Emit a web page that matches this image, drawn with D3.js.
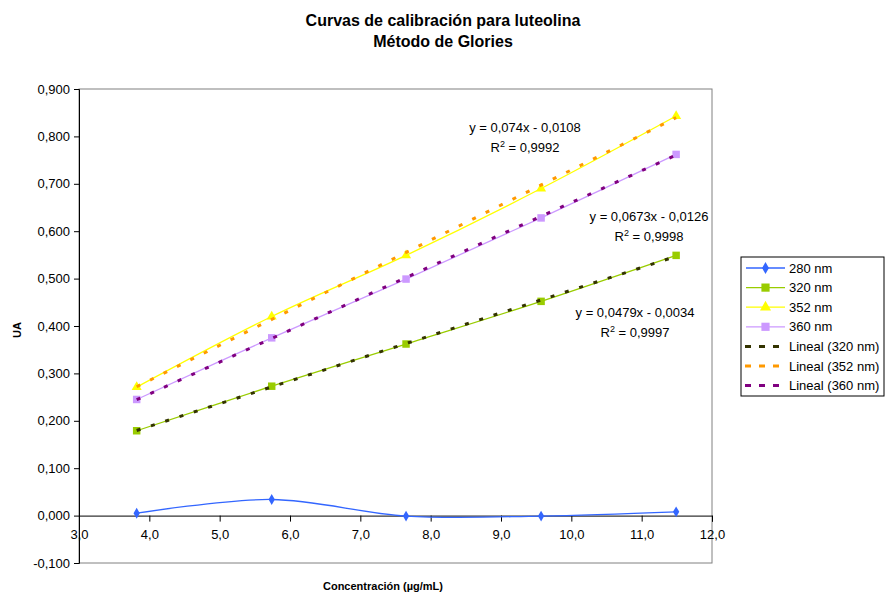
<!DOCTYPE html>
<html>
<head>
<meta charset="utf-8">
<script src="https://cdn.jsdelivr.net/npm/d3@7"></script>
<style>
  body { margin: 0; background: #fff; }
  text { font-family: Arial, "Liberation Sans", sans-serif; }
</style>
</head>
<body>
<div id="chart"></div>
<script>
const width = 886;
const height = 595;

// concentrations (ug/mL)
const conc = [3.82, 5.74, 7.65, 9.57, 11.49];

const series = [
  { name: "280 nm", color: "#3366FF", symbol: "diamond", values: [0.005, 0.034, -0.001, -0.001, 0.008] },
  { name: "320 nm", color: "#99CC00", symbol: "square", values: [0.179, 0.273, 0.362, 0.452, 0.549] },
  { name: "352 nm", color: "#FFFF00", symbol: "triangle", values: [0.271, 0.420, 0.549, 0.690, 0.843] },
  { name: "360 nm", color: "#CC99FF", symbol: "square", values: [0.245, 0.375, 0.499, 0.628, 0.762] }
];

// linear trendlines (slope, intercept) as printed on the chart
const trends = [
  { name: "Lineal (320 nm)", color: "#333300", slope: 0.0479, intercept: -0.0034, r2: "0,9997", lx: 635, ly: 312 },
  { name: "Lineal (352 nm)", color: "#FF9900", slope: 0.074, intercept: -0.0108, r2: "0,9992", lx: 525, ly: 127 },
  { name: "Lineal (360 nm)", color: "#800080", slope: 0.0673, intercept: -0.0126, r2: "0,9998", lx: 649, ly: 216 }
];

const xTicks = [3, 4, 5, 6, 7, 8, 9, 10, 11, 12];
const yTicks = [-0.1, 0, 0.1, 0.2, 0.3, 0.4, 0.5, 0.6, 0.7, 0.8, 0.9];

const locale = d3.formatLocale({ decimal: ",", thousands: ".", grouping: [3], currency: ["", ""], minus: "-" });
const fy = locale.format(".3f");
const fx = locale.format(".1f");
const fnum = v => locale.format(",")(v);

const plot = { left: 79, right: 712, top: 89, bottom: 563 };
const x = d3.scaleLinear().domain([3, 12]).range([plot.left, plot.right]);
const y = d3.scaleLinear().domain([-0.1, 0.9]).range([plot.bottom, plot.top]);

const svg = d3.select("#chart").append("svg")
  .attr("width", width)
  .attr("height", height);

// title
svg.append("text").attr("x", 443).attr("y", 26).attr("text-anchor", "middle")
  .style("font-size", "16px").style("font-weight", "bold")
  .text("Curvas de calibración para luteolina");
svg.append("text").attr("x", 443).attr("y", 47).attr("text-anchor", "middle")
  .style("font-size", "16px").style("font-weight", "bold")
  .text("Método de Glories");

// plot frame
svg.append("rect")
  .attr("x", plot.left).attr("y", plot.top)
  .attr("width", plot.right - plot.left).attr("height", plot.bottom - plot.top)
  .attr("fill", "#fff").attr("stroke", "#808080").attr("stroke-width", 1);

// y axis
const yAxis = svg.append("g")
  .attr("transform", `translate(${plot.left},0)`)
  .call(d3.axisLeft(y).tickValues(yTicks).tickFormat(fy).tickSize(5).tickPadding(4));
yAxis.select(".domain").attr("stroke", "#000");
yAxis.selectAll("text").style("font-size", "13px").style("font-family", "Arial, 'Liberation Sans', sans-serif");

// x axis at y = 0
const xAxis = svg.append("g")
  .attr("transform", `translate(0,${y(0)})`)
  .call(d3.axisBottom(x).tickValues(xTicks).tickFormat(fx).tickSize(6).tickPadding(8).tickSizeOuter(6));
xAxis.select(".domain").attr("stroke", "#000");
xAxis.selectAll("text").style("font-size", "13px").style("font-family", "Arial, 'Liberation Sans', sans-serif");

// axis titles
svg.append("text").attr("x", 383).attr("y", 590).attr("text-anchor", "middle")
  .style("font-size", "11px").style("font-weight", "bold")
  .text("Concentración (µg/mL)");
svg.append("text")
  .attr("transform", `translate(21,${(plot.top + plot.bottom) / 2 + 4}) rotate(-90)`)
  .attr("text-anchor", "middle")
  .style("font-size", "11px").style("font-weight", "bold")
  .text("UA");

const symbolType = { diamond: d3.symbolDiamond, square: d3.symbolSquare, triangle: d3.symbolTriangle };
const symbolSize = { diamond: 34, square: 56, triangle: 44 };

// series lines (smoothed like the original)
const line = d3.line()
  .x(d => x(d[0]))
  .y(d => y(d[1]))
  .curve(d3.curveCatmullRom.alpha(0));

series.forEach(s => {
  const pts = conc.map((c, i) => [c, s.values[i]]);
  svg.append("path")
    .datum(pts)
    .attr("fill", "none")
    .attr("stroke", s.color)
    .attr("stroke-width", 1.3)
    .attr("d", line);
  svg.append("g").selectAll("path")
    .data(pts)
    .join("path")
    .attr("transform", d => `translate(${x(d[0])},${y(d[1])})`)
    .attr("d", d3.symbol(symbolType[s.symbol], symbolSize[s.symbol]))
    .attr("fill", s.color);
});

// trendlines
trends.forEach(t => {
  const x0 = conc[0], x1 = conc[conc.length - 1];
  svg.append("line")
    .attr("x1", x(x0)).attr("y1", y(t.slope * x0 + t.intercept))
    .attr("x2", x(x1)).attr("y2", y(t.slope * x1 + t.intercept))
    .attr("stroke", t.color)
    .attr("stroke-width", 3)
    .attr("stroke-dasharray", "4,11");

  const sign = t.intercept < 0 ? " - " : " + ";
  svg.append("text")
    .attr("x", t.lx).attr("y", t.ly + 5)
    .attr("text-anchor", "middle")
    .style("font-size", "13px")
    .text(`y = ${fnum(t.slope)}x${sign}${fnum(Math.abs(t.intercept))}`);

  const r = svg.append("text")
    .attr("x", t.lx).attr("y", t.ly + 25)
    .attr("text-anchor", "middle")
    .style("font-size", "13px");
  r.append("tspan").text("R");
  r.append("tspan").attr("dy", -5).style("font-size", "9px").text("2");
  r.append("tspan").attr("dy", 5).text(` = ${t.r2}`);
});

// legend
const legend = svg.append("g");
legend.append("rect")
  .attr("x", 741).attr("y", 257).attr("width", 143).attr("height", 139)
  .attr("fill", "#fff").attr("stroke", "#000").attr("stroke-width", 1);

const legItems = series.map(s => ({ name: s.name, color: s.color, symbol: s.symbol }))
  .concat(trends.map(t => ({ name: t.name, color: t.color, dashed: true })));

legItems.forEach((d, i) => {
  const ly = 268 + i * 19.6;
  if (d.dashed) {
    legend.append("line")
      .attr("x1", 745).attr("x2", 787).attr("y1", ly).attr("y2", ly)
      .attr("stroke", d.color).attr("stroke-width", 3)
      .attr("stroke-dasharray", "6,8");
  } else {
    legend.append("line")
      .attr("x1", 746).attr("x2", 785).attr("y1", ly).attr("y2", ly)
      .attr("stroke", d.color).attr("stroke-width", 1.3);
    legend.append("path")
      .attr("transform", `translate(765.5,${ly})`)
      .attr("d", d3.symbol(symbolType[d.symbol], symbolSize[d.symbol] * 1.2))
      .attr("fill", d.color);
  }
  legend.append("text")
    .attr("x", 789).attr("y", ly + 4.5)
    .style("font-size", "13px")
    .text(d.name);
});
</script>
</body>
</html>
